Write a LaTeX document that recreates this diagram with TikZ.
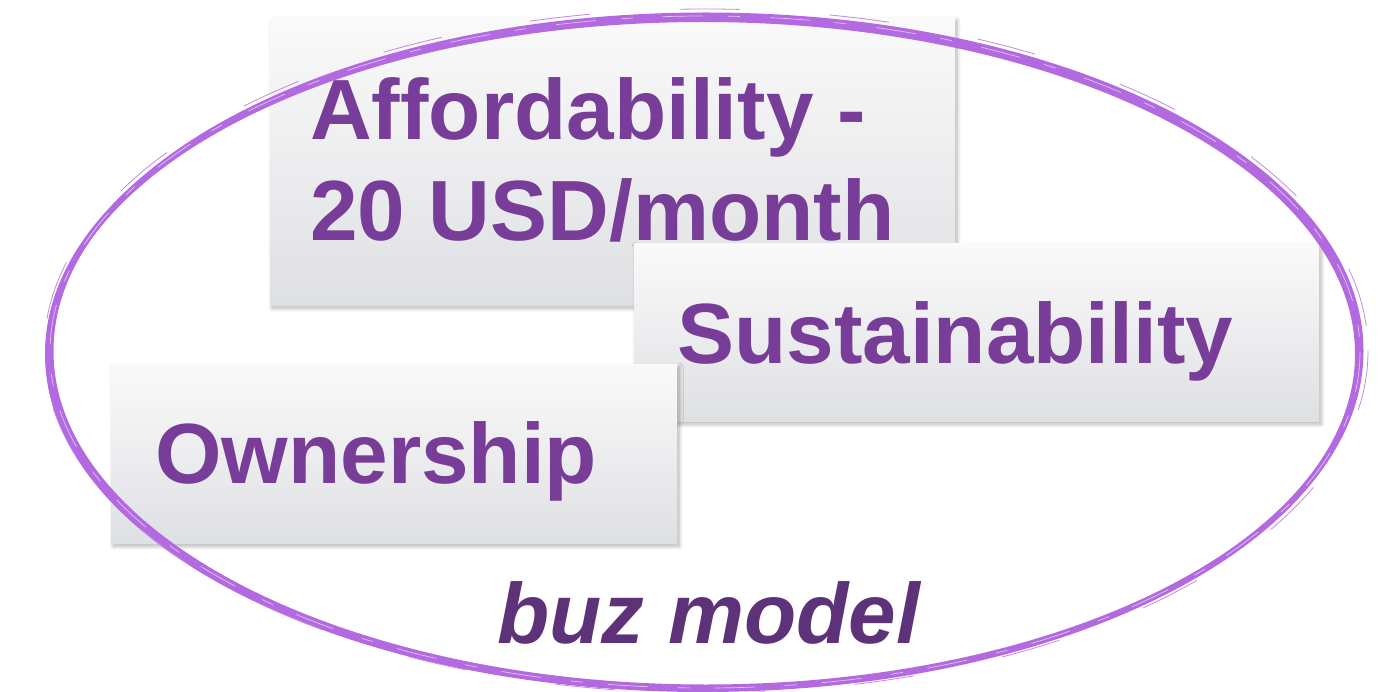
\documentclass[tikz,border=0pt]{standalone}
\usepackage{fontspec}
\setmainfont{Liberation Sans}
\usetikzlibrary{shadows.blur}

\definecolor{txtpurple}{HTML}{773D98}
\definecolor{modelpurple}{HTML}{5E3279}
\definecolor{brush}{HTML}{B36AE1}
\definecolor{boxtop}{HTML}{FAFAFA}
\definecolor{boxbot}{HTML}{DFE0E3}

\begin{document}
\begin{tikzpicture}[x=1pt,y=-1pt,
   card/.style={draw=none,top color=boxtop,bottom color=boxbot,anchor=north west,
     blur shadow={shadow blur steps=8,shadow blur radius=4pt,shadow xshift=2pt,shadow yshift=-3pt,shadow opacity=30}},
   word/.style={text=txtpurple,font=\fontsize{85.5}{101}\selectfont\bfseries,
     anchor=base west,inner sep=0pt,align=left}]
   \useasboundingbox (0,0) rectangle (1384,692);
   % boxes, back to front
   \node[card,minimum width=685,minimum height=288] (afford) at (270,17) {};
   \node[word] (affordtxt) at (310,241) {Affordability -\\20 USD/month};
   \node[card,minimum width=685,minimum height=178] (sustain) at (634,243) {};
   \node[word] (sustaintxt) at (677,363) {Sustainability};
   \node[card,minimum width=566,minimum height=179] (owner) at (111,364) {};
   \node[word] (ownertxt) at (155,483) {Ownership};
   % brush ellipse round it all
   \coordinate (mid) at (706,351);
   \draw[brush,line width=5pt] (mid) ellipse [x radius=655,y radius=336];
   \draw[brush,line width=6pt] ([shift={(-3,3)}]mid) ellipse [x radius=655,y radius=335];
   \draw[white,opacity=0.6,line width=0.7pt,dash pattern=on 40pt off 25pt on 12pt off 30pt]
     ([shift={(-1,1)}]mid) ellipse [x radius=655,y radius=336];
   \draw[brush!80,line width=0.8pt,dash pattern=on 60pt off 90pt]
     (mid) ellipse [x radius=662,y radius=342];
   \node[anchor=base west,inner sep=0pt,text=modelpurple,
     font=\fontsize{85.5}{101}\selectfont\bfseries\itshape] (model) at (497,643) {buz model};
\end{tikzpicture}
\end{document}
